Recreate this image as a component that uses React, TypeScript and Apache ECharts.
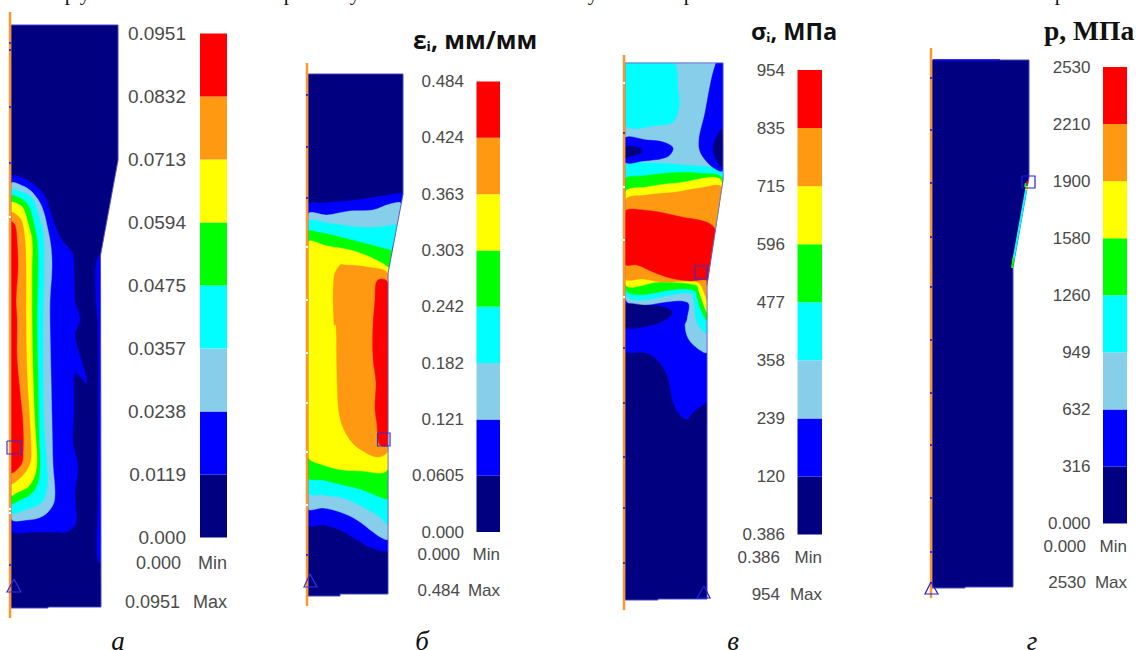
import React, { useEffect, useRef } from "react";
import * as echarts from "echarts";

type Pt = [number, number];

const NAVY = "#000080";
const BLUE = "#0000ff";
const SKY = "#87ceeb";
const CYAN = "#00ffff";
const GREEN = "#00ff00";
const YELLOW = "#ffff00";
const ORANGE = "#ff9912";
const RED = "#ff0000";
const bandColors = [NAVY, BLUE, SKY, CYAN, GREEN, YELLOW, ORANGE, RED];

// ---- scale tick labels (bottom to top) ----
const ticksA = ["0.000", "0.0119", "0.0238", "0.0357", "0.0475", "0.0594", "0.0713", "0.0832", "0.0951"];
const ticksB = ["0.000", "0.0605", "0.121", "0.182", "0.242", "0.303", "0.363", "0.424", "0.484"];
const ticksC = ["0.386", "120", "239", "358", "477", "596", "715", "835", "954"];
const ticksD = ["0.000", "316", "632", "949", "1260", "1580", "1900", "2210", "2530"];
const bandUnits = [1, 1, 1, 1, 1, 1, 1, 1];

// ---- panel а (contours, page coordinates) ----
const aBody: Pt[] = [[11, 25], [118, 25], [118, 160], [100.5, 255], [101, 607], [48, 607], [48, 608], [11, 608]];
const aBlue: Pt[] = [[11, 177], [23, 178], [37, 187], [45, 197], [52, 217], [60, 237], [72, 253], [74, 267], [75, 300], [80, 320], [75, 335], [87, 383], [75, 373], [74, 408], [73, 442], [78, 467], [75, 492], [76, 522], [67, 532], [57, 532], [33, 532], [11, 529]];
const aStrip: Pt[] = [[100.5, 255], [96, 264], [96, 300], [98, 325], [98, 500], [97, 555], [100.5, 563]];
const aSky: Pt[] = [[11, 184], [23, 186], [33, 193], [42, 207], [48, 230], [51, 247], [52, 267], [50, 300], [50, 325], [51, 375], [52, 422], [53, 465], [55, 492], [53, 505], [43, 516], [27, 520], [11, 518]];
const aCyan: Pt[] = [[11, 191], [22, 192], [32, 198], [38, 213], [43, 233], [44, 267], [43, 320], [43, 375], [44, 425], [47, 468], [47, 488], [42, 502], [30, 508], [11, 511]];
const aGreen: Pt[] = [[11, 197], [20, 198], [28, 205], [33, 220], [37, 240], [38, 267], [37, 320], [38, 382], [39, 438], [40, 465], [38, 482], [32, 493], [20, 500], [11, 503]];
const aYellow: Pt[] = [[11, 203], [18, 204], [23, 208], [28, 223], [32, 240], [32, 267], [32, 320], [33, 375], [35, 425], [37, 458], [35, 475], [28, 487], [18, 492], [11, 495]];
const aOrange: Pt[] = [[11, 213], [17, 215], [22, 222], [25, 240], [26, 267], [26, 320], [27, 375], [30, 425], [31, 458], [28, 468], [20, 478], [11, 483]];
const aRed: Pt[] = [[11, 222], [15, 225], [17, 240], [18, 267], [16, 300], [17, 320], [17, 358], [20, 392], [23, 425], [23, 455], [21, 465], [11, 472]];

// ---- panel б ----
const bBody: Pt[] = [[308, 74], [403, 74], [403, 194], [388, 273], [388, 594], [340, 594], [340, 596], [308, 596]];
const bBlue: Pt[] = [[308, 205], [323, 203], [357, 200], [401, 193], [403, 194], [388, 273], [388, 549], [372, 548], [357, 540], [342, 531], [325, 525], [308, 524]];
const bSky: Pt[] = [[308, 215], [327, 215], [350, 211], [373, 210], [390, 204], [401, 204], [388, 273], [388, 539], [382, 538], [373, 532], [357, 520], [340, 512], [323, 508], [308, 508]];
const bCyan: Pt[] = [[308, 223], [327, 223], [357, 227], [380, 227], [393, 225], [397, 225], [388, 273], [388, 524], [380, 517], [363, 507], [343, 498], [323, 495], [308, 492]];
const bGreen: Pt[] = [[308, 232], [317, 232], [340, 237], [363, 243], [382, 248], [392, 252], [388, 273], [388, 498], [380, 497], [363, 490], [343, 485], [323, 480], [308, 477]];
const bYellow: Pt[] = [[308, 243], [327, 246], [350, 250], [370, 257], [389, 268], [388, 273], [388, 468], [382, 473], [363, 471], [343, 470], [323, 465], [308, 456]];
const bOrange: Pt[] = [[340, 265], [345, 265], [367, 267], [388, 275], [388, 450], [378, 457], [363, 451], [350, 440], [340, 418], [337, 375], [336, 325], [334, 325], [334, 277]];
const bRed: Pt[] = [[376, 283], [380, 279], [387, 281], [388, 290], [388, 445], [380, 445], [378, 438], [377, 425], [375, 408], [376, 382], [373, 358], [373, 325], [375, 300]];

// ---- panel в ----
const cBody: Pt[] = [[625, 63], [723, 63], [723, 180], [707, 285], [707, 599], [658, 599], [658, 600], [625, 600]];
const cLowBlue: Pt[] = [[625, 295], [707, 295], [707, 399], [693, 412], [687, 419], [680, 415], [673, 402], [668, 378], [660, 363], [647, 353], [625, 350]];
const cSky: Pt[] = [[625, 63], [723, 63], [723, 180], [707, 285], [707, 352], [697, 348], [688, 338], [685, 325], [687, 320], [687, 302], [625, 298]];
const cCyan: Pt[] = [[625, 167], [650, 163], [683, 165], [723, 170], [723, 180], [707, 285], [707, 333], [698, 325], [696, 320], [693, 297], [690, 293], [625, 294]];
const cGreen: Pt[] = [[625, 180], [643, 176], [670, 173], [697, 173], [723, 180], [707, 285], [707, 320], [701, 310], [697, 297], [695, 291], [683, 289], [625, 289]];
const cYellow: Pt[] = [[625, 193], [647, 187], [677, 183], [722, 182], [707, 285], [707, 312], [703, 303], [699, 292], [696, 285], [660, 282], [625, 284]];
const cOrange: Pt[] = [[625, 201], [647, 195], [677, 192], [700, 188], [722, 188], [707, 285], [707, 300], [705, 295], [700, 284], [693, 281], [663, 282], [643, 279], [625, 278]];
const cRed: Pt[] = [[625, 212], [643, 210], [677, 216], [715, 229], [707, 285], [706, 280], [690, 281], [670, 278], [653, 272], [637, 265], [625, 264]];
const cTopCyan: Pt[] = [[625, 63], [673, 63], [678, 90], [679, 107], [673, 122], [660, 125], [625, 125]];
const cTopBlue: Pt[] = [[716, 63], [723, 63], [723, 170], [710, 165], [699, 147], [705, 113]];
const cTopNavy: Pt[] = [[722.5, 129], [713, 147], [718, 163], [722.5, 167]];
const cMidBlue: Pt[] = [[625, 138], [647, 140], [663, 142], [673, 148], [667, 157], [643, 161], [625, 162]];
const cMidNavy: Pt[] = [[625, 147], [640, 148], [642, 152], [633, 156], [625, 157]];
const cLowNavy: Pt[] = [[625, 305], [643, 305], [663, 307], [672, 312], [665, 320], [643, 327], [625, 327]];

// ---- panel г ----
const dBody: Pt[] = [[932, 60], [1029, 60], [1029, 177], [1013, 267], [1013, 587], [965, 587], [965, 588], [932, 588]];

// ---- polygons in painting order ----
const bodies = [aBody, bBody, cBody, dBody];
const regions: { c: string; p: Pt[]; body: Pt[] }[] = [
  { c: NAVY, p: aBody, body: aBody }, { c: BLUE, p: aBlue, body: aBody }, { c: BLUE, p: aStrip, body: aBody }, { c: SKY, p: aSky, body: aBody }, { c: CYAN, p: aCyan, body: aBody },
  { c: GREEN, p: aGreen, body: aBody }, { c: YELLOW, p: aYellow, body: aBody }, { c: ORANGE, p: aOrange, body: aBody }, { c: RED, p: aRed, body: aBody },
  { c: NAVY, p: bBody, body: bBody }, { c: BLUE, p: bBlue, body: bBody }, { c: SKY, p: bSky, body: bBody }, { c: CYAN, p: bCyan, body: bBody },
  { c: GREEN, p: bGreen, body: bBody }, { c: YELLOW, p: bYellow, body: bBody }, { c: ORANGE, p: bOrange, body: bBody }, { c: RED, p: bRed, body: bBody },
  { c: NAVY, p: cBody, body: cBody }, { c: BLUE, p: cLowBlue, body: cBody }, { c: SKY, p: cSky, body: cBody }, { c: CYAN, p: cCyan, body: cBody }, { c: GREEN, p: cGreen, body: cBody },
  { c: YELLOW, p: cYellow, body: cBody }, { c: ORANGE, p: cOrange, body: cBody }, { c: RED, p: cRed, body: cBody }, { c: CYAN, p: cTopCyan, body: cBody }, { c: BLUE, p: cTopBlue, body: cBody },
  { c: NAVY, p: cTopNavy, body: cBody }, { c: BLUE, p: cMidBlue, body: cBody }, { c: NAVY, p: cMidNavy, body: cBody }, { c: NAVY, p: cLowNavy, body: cBody },
  { c: NAVY, p: dBody, body: dBody },
];

// ---- breaks along the constraint axes: [axis x, page y] ----
const axisBreaksNavy: Pt[] = [
  [10, 43], [10, 50], [10, 107], [10, 163], [10, 565],
  [307, 95], [307, 147], [307, 198], [307, 555],
  [624, 133], [624, 348], [624, 403], [624, 457], [624, 508], [624, 563],
  [931, 78], [931, 130], [931, 183], [931, 237], [931, 287], [931, 340], [931, 393], [931, 445], [931, 498], [931, 552],
];
const axisBreaksWhite: Pt[] = [
  [10, 217], [10, 509], [10, 513],
  [307, 247], [307, 300], [307, 353], [307, 403], [307, 452], [307, 505],
  [624, 83], [624, 187], [624, 240], [624, 297],
];

// ---- strokes: constraint axes, hot edge of panel г, markers ----
const MARK = "#3a2fd0";
const strokes: { c: string; w: number; p: Pt[] }[] = [
  ...bodies.map((b) => ({ c: "#5c5cd8", w: 0.7, p: b.concat([b[0]]) })),
  { c: "#ff962a", w: 2.5, p: [[10, 12], [10, 618]] },
  { c: "#ff962a", w: 2.5, p: [[307, 63], [307, 606]] },
  { c: "#ff962a", w: 2.5, p: [[624, 55], [624, 610]] },
  { c: "#ff962a", w: 2.5, p: [[931, 48], [931, 598]] },
  ...axisBreaksNavy.map((q) => ({ c: "#3a3ab0", w: 2, p: [[q[0], q[1] - 1], [q[0], q[1] + 1]] as Pt[] })),
  ...axisBreaksWhite.map((q) => ({ c: "#ffffff", w: 2, p: [[q[0], q[1] - 1], [q[0], q[1] + 1]] as Pt[] })),
  { c: BLUE, w: 1.5, p: [[933, 60], [1000, 60]] },
  { c: CYAN, w: 2, p: [[1026, 190], [1013, 262]] },
  { c: GREEN, w: 2, p: [[1013.5, 258], [1012, 268]] },
  { c: YELLOW, w: 2.5, p: [[1027, 186], [1026, 190]] },
  { c: GREEN, w: 2, p: [[1026, 183], [1025, 187]] },
  { c: RED, w: 1.5, p: [[1027, 181], [1027, 184]] },
  { c: MARK, w: 1.2, p: [[7, 441], [21, 441], [21, 454], [7, 454], [7, 441]] },
  { c: MARK, w: 1.2, p: [[14, 579], [7, 592], [21, 592], [14, 579]] },
  { c: MARK, w: 1.2, p: [[377.5, 433], [390, 433], [390, 446], [377.5, 446], [377.5, 433]] },
  { c: MARK, w: 1.2, p: [[310, 574], [304, 587], [317, 587], [310, 574]] },
  { c: MARK, w: 1.2, p: [[695, 266], [707, 266], [707, 279], [695, 279], [695, 266]] },
  { c: "#2020e0", w: 1.2, p: [[704, 586], [697, 598], [710, 598], [704, 586]] },
  { c: "#2020e0", w: 1.2, p: [[1022, 176], [1035, 176], [1035, 188], [1022, 188], [1022, 176]] },
  { c: "#2020e0", w: 1.2, p: [[931, 582], [925, 594], [938, 594], [931, 582]] },
];

const minMaxTexts: { t: string; x: number; y: number; s: number }[] = [
  { t: "0.000", x: 181, y: 563, s: 18 }, { t: "Min", x: 227, y: 563, s: 18 },
  { t: "0.0951", x: 180, y: 602, s: 18 }, { t: "Max", x: 227, y: 602, s: 18 },
  { t: "0.000", x: 460, y: 554, s: 17 }, { t: "Min", x: 500, y: 554, s: 17 },
  { t: "0.484", x: 460, y: 590, s: 17 }, { t: "Max", x: 500, y: 590, s: 17 },
  { t: "0.386", x: 780, y: 557, s: 17 }, { t: "Min", x: 822, y: 557, s: 17 },
  { t: "954", x: 780, y: 594, s: 17 }, { t: "Max", x: 822, y: 594, s: 17 },
  { t: "0.000", x: 1086, y: 546, s: 17 }, { t: "Min", x: 1127, y: 546, s: 17 },
  { t: "2530", x: 1086, y: 582, s: 17 }, { t: "Max", x: 1127, y: 582, s: 17 },
];

const captions: [string, number][] = [["а", 118], ["б", 422], ["в", 733], ["г", 1032]];
const cutLine: [string, number][] = [["р", 70], ["у", 85], ["р", 289], ["у", 355], ["у", 593], ["р", 689], ["р", 1060]];

const bars = [
  { ticks: ticksA, left: 200, width: 27, top: 33.5, bottom: 537.5, size: 19, margin: 14 },
  { ticks: ticksB, left: 476.5, width: 23.5, top: 81.5, bottom: 532, size: 17, margin: 12.5 },
  { ticks: ticksC, left: 797.5, width: 24.5, top: 70, bottom: 534.5, size: 17, margin: 12.5 },
  { ticks: ticksD, left: 1103, width: 24, top: 67, bottom: 523.5, size: 17, margin: 12.5 },
];

function buildOption() {
  const grid: any[] = [{ left: 0, top: 0, width: 1141, height: 650 }];
  const xAxis: any[] = [{ type: "value", min: 0, max: 1141, show: false, gridIndex: 0 }];
  const yAxis: any[] = [{ type: "value", min: 0, max: 650, inverse: true, show: false, gridIndex: 0 }];
  const series: any[] = [
    {
      type: "custom", xAxisIndex: 0, yAxisIndex: 0, silent: true, clip: false, z: 2,
      data: regions.map((_, i) => [i]),
      renderItem: (params: any, api: any) => {
        const r = regions[params.dataIndex];
        const isBody = r.p === r.body;
        return {
          type: "polygon",
          shape: { points: r.p.map((q) => api.coord(q)), smooth: isBody ? 0 : 0.35 },
          style: { fill: r.c, stroke: r.c, lineWidth: 0.4 },
          clipPath: isBody ? undefined : { type: "polygon", shape: { points: r.body.map((q) => api.coord(q)) } },
        };
      },
    },
    {
      type: "custom", xAxisIndex: 0, yAxisIndex: 0, silent: true, clip: false, z: 3,
      data: strokes.map((_, i) => [i]),
      renderItem: (params: any, api: any) => {
        const r = strokes[params.dataIndex];
        return { type: "polyline", shape: { points: r.p.map((q) => api.coord(q)) }, style: { fill: "none", stroke: r.c, lineWidth: r.w } };
      },
    },
  ];
  bars.forEach((b, k) => {
    const idx = k + 1;
    grid.push({ left: b.left, width: b.width, top: b.top, height: b.bottom - b.top });
    xAxis.push({ type: "category", data: [""], show: false, gridIndex: idx });
    yAxis.push({
      type: "value", min: 0, max: 8, interval: 1, gridIndex: idx,
      axisLine: { show: false }, axisTick: { show: false }, splitLine: { show: false },
      axisLabel: {
        margin: b.margin, color: "#4a4a4a", fontFamily: "Liberation Sans", fontSize: b.size,
        formatter: (v: number) => b.ticks[v] ?? "",
      },
    });
    bandUnits.forEach((u, i) => {
      series.push({
        type: "bar", stack: "s" + k, xAxisIndex: idx, yAxisIndex: idx, barWidth: "100%", silent: true,
        data: [u], itemStyle: { color: bandColors[i] },
      });
    });
  });

  const texts: any[] = [];
  minMaxTexts.forEach((m) => {
    texts.push({
      type: "text", x: m.x, y: m.y,
      style: { text: m.t, fill: "#4a4a4a", font: `${m.s}px "Liberation Sans"`, textAlign: "right", textVerticalAlign: "middle" },
    });
  });
  captions.forEach(([t, x]) => {
    texts.push({
      type: "text", x, y: 641,
      style: { text: t, fill: "#111", font: 'italic 27px "Liberation Serif"', lineHeight: 18, textAlign: "center", textVerticalAlign: "middle" },
    });
  });
  cutLine.forEach(([t, x]) => {
    texts.push({
      type: "text", x, y: 3,
      style: { text: t, fill: "#111", font: '21px "Liberation Serif"', textAlign: "center", textVerticalAlign: "bottom" },
    });
  });
  texts.push({
    type: "text", x: 413, y: 39,
    style: { text: "εᵢ, мм/мм", fill: "#111", font: 'bold 24.5px "Open Sans"', textAlign: "left", textVerticalAlign: "middle" },
  });
  texts.push({
    type: "text", x: 751, y: 31,
    style: { text: "σᵢ, МПа", fill: "#111", font: 'bold 23.5px "Open Sans"', textAlign: "left", textVerticalAlign: "middle" },
  });
  texts.push({
    type: "text", x: 1044, y: 30,
    style: { text: "p, МПа", fill: "#111", font: 'bold 27.5px "Liberation Serif"', textAlign: "left", textVerticalAlign: "middle" },
  });

  return { animation: false, backgroundColor: "#fff", grid, xAxis, yAxis, series, graphic: { elements: texts } };
}

export default function App() {
  const ref = useRef<HTMLDivElement>(null);
  useEffect(() => {
    document.body.style.margin = "0";
    document.body.style.overflow = "hidden";
    const chart = echarts.init(ref.current!, undefined, { renderer: "svg" });
    chart.setOption(buildOption() as any);
    return () => chart.dispose();
  }, []);
  return <div ref={ref} style={{ position: "absolute", left: 0, top: 0, width: 1141, height: 650 }} />;
}
